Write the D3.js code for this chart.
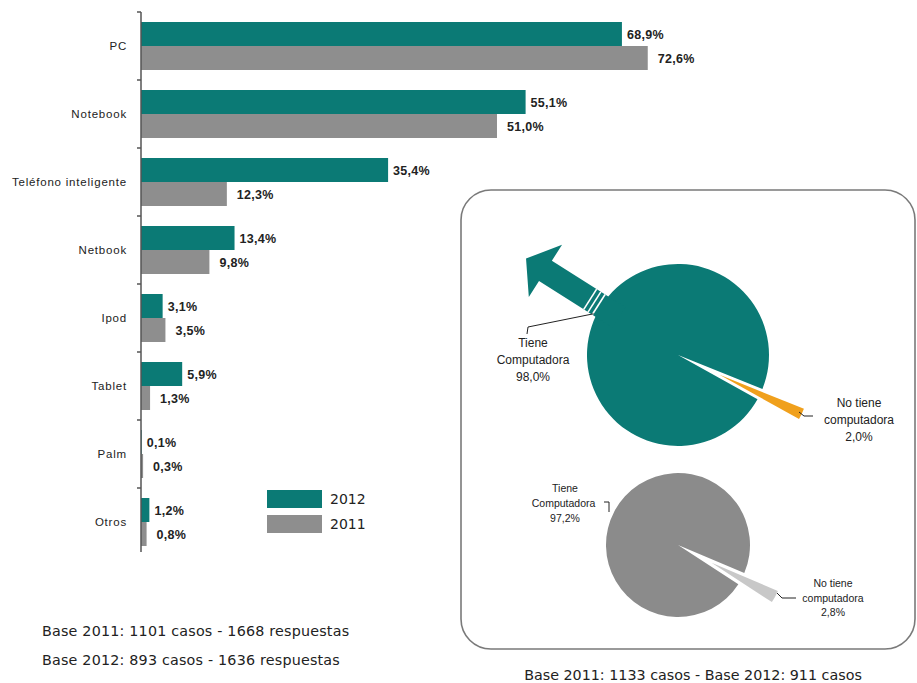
<!DOCTYPE html>
<html>
<head>
<meta charset="utf-8">
<script src="https://cdn.jsdelivr.net/npm/d3@7"></script>
<style>
  body { margin: 0; background: #fff; }
  svg { display: block; }
</style>
</head>
<body>
<svg id="chart" width="917" height="683"></svg>
<script>
// Devices owned, by year (percent of respondents)
const categories = ["PC", "Notebook", "Teléfono inteligente", "Netbook", "Ipod", "Tablet", "Palm", "Otros"];
const seriesNames = ["2012", "2011"];
const values2012 = [68.9, 55.1, 35.4, 13.4, 3.1, 5.9, 0.1, 1.2];
const values2011 = [72.6, 51.0, 12.3, 9.8, 3.5, 1.3, 0.3, 0.8];
const seriesColors = ["#0b7a75", "#8e8e8e"];

// Computer ownership pies
const pieLabels = [["Tiene", "Computadora"], ["No tiene", "computadora"]];
const pie2012Values = [98.0, 2.0];
const pie2011Values = [97.2, 2.8];
const pie2012Colors = ["#0b7a75", "#f0a01c"];
const pie2011Colors = ["#8b8b8b", "#c8c8c8"];

const barNotes = ["Base 2011: 1101 casos - 1668 respuestas", "Base 2012: 893 casos - 1636 respuestas"];
const pieNote = "Base 2011: 1133 casos - Base 2012: 911 casos";

const fmt = v => d3.format(".1f")(v).replace(".", ",") + "%";

const svg = d3.select("#chart");

// ---------- Bar chart ----------
const axisX = 141;
const x = d3.scaleLinear().domain([0, 100]).range([axisX, axisX + 698]);
const y = d3.scaleBand().domain(categories).range([12, 556]);
const ySub = d3.scaleBand().domain(seriesNames).range([10, 58]);

const rows = categories.map((c, i) => ({ cat: c, vals: [values2012[i], values2011[i]] }));

const groups = svg.append("g").selectAll("g.row")
  .data(rows).join("g")
  .attr("class", "row")
  .attr("transform", d => `translate(0,${y(d.cat)})`);

groups.selectAll("rect")
  .data(d => d.vals.map((v, k) => ({ v, k })))
  .join("rect")
  .attr("x", x(0))
  .attr("y", d => ySub(seriesNames[d.k]))
  .attr("width", d => x(d.v) - x(0))
  .attr("height", ySub.bandwidth())
  .attr("fill", d => seriesColors[d.k]);

groups.selectAll("text.val")
  .data(d => d.vals.map((v, k) => ({ v, k })))
  .join("text")
  .attr("class", "val")
  .attr("x", d => x(d.v) + (d.k === 0 ? 5 : 10))
  .attr("y", d => ySub(seriesNames[d.k]) + ySub.bandwidth() / 2 + 4.5)
  .attr("font-family", "Liberation Sans, Arial, sans-serif")
  .attr("font-weight", "bold")
  .attr("font-size", 12.5)
  .attr("letter-spacing", 0.3)
  .attr("fill", "#222")
  .text(d => fmt(d.v));

// Category axis
const yAxis = d3.axisLeft(y).tickSize(0).tickPadding(14);
const axisG = svg.append("g").attr("transform", `translate(${axisX},0)`).call(yAxis);
axisG.select(".domain").remove();
axisG.selectAll("text")
  .attr("font-family", "Liberation Sans, Arial, sans-serif")
  .attr("font-size", 11.5)
  .attr("letter-spacing", 0.8)
  .attr("fill", "#222");

svg.append("line")
  .attr("x1", axisX).attr("x2", axisX)
  .attr("y1", y.range()[0]).attr("y2", y.range()[1] - 4)
  .attr("stroke", "#555").attr("stroke-width", 1.5);

svg.append("g").selectAll("line")
  .data(d3.range(categories.length))
  .join("line")
  .attr("x1", axisX - 4).attr("x2", axisX)
  .attr("y1", i => y.range()[0] + i * y.step())
  .attr("y2", i => y.range()[0] + i * y.step())
  .attr("stroke", "#555").attr("stroke-width", 1.5);

// Legend
const legend = svg.append("g").attr("transform", "translate(267,490)");
seriesNames.forEach((s, i) => {
  legend.append("rect")
    .attr("x", 0).attr("y", i * 25)
    .attr("width", 55).attr("height", 18)
    .attr("fill", seriesColors[i]);
  legend.append("text")
    .attr("x", 63).attr("y", i * 25 + 14)
    .attr("font-family", "DejaVu Sans, sans-serif")
    .attr("font-size", 14)
    .attr("fill", "#222")
    .text(s);
});

// Notes under the bar chart
svg.append("g").selectAll("text")
  .data(barNotes).join("text")
  .attr("x", 42)
  .attr("y", (d, i) => 636 + i * 29)
  .attr("font-family", "DejaVu Sans, sans-serif")
  .attr("font-size", 14.3)
  .attr("letter-spacing", 0.2)
  .attr("fill", "#222")
  .text(d => d);

// ---------- Pie panel ----------
svg.append("rect")
  .attr("x", 461).attr("y", 190)
  .attr("width", 454).attr("height", 459)
  .attr("rx", 30).attr("ry", 30)
  .attr("fill", "none")
  .attr("stroke", "#7a7a7a").attr("stroke-width", 1.6);

svg.append("text")
  .attr("x", 693).attr("y", 680)
  .attr("text-anchor", "middle")
  .attr("font-family", "DejaVu Sans, sans-serif")
  .attr("font-size", 14.3)
  .attr("fill", "#222")
  .text(pieNote);

const rad = deg => deg * Math.PI / 180;
const polar = (cx, cy, r, a) => [cx + r * Math.sin(a), cy - r * Math.cos(a)];

function drawPie(cfg) {
  const { cx, cy, r, values, colors, midDeg, explode } = cfg;
  const total = d3.sum(values);
  const smallSpan = 360 * values[1] / total;
  const start = rad(midDeg - smallSpan / 2 - (360 - smallSpan));
  const pie = d3.pie().sort(null).startAngle(start).endAngle(start + 2 * Math.PI);
  const arcs = pie(values);
  const arc = d3.arc().innerRadius(0).outerRadius(r);
  const g = svg.append("g").attr("transform", `translate(${cx},${cy})`);
  arcs.forEach((a, i) => {
    const mid = (a.startAngle + a.endAngle) / 2;
    const off = i === 1 ? explode : 0;
    g.append("path")
      .attr("d", arc(a))
      .attr("transform", `translate(${Math.sin(mid) * off},${-Math.cos(mid) * off})`)
      .attr("fill", colors[i]);
  });
  return { g, arcs };
}

// 2012 pie
const p1 = { cx: 678, cy: 355, r: 91 };
drawPie({ ...p1, values: pie2012Values, colors: pie2012Colors, midDeg: 115.5, explode: 46 });

// Arrow leaving the 2012 pie
{
  const ang = -147.6; // direction of the arrow, screen degrees
  const g = svg.append("g").attr("transform", `translate(${p1.cx},${p1.cy}) rotate(${ang})`);
  const shaftHalf = 12, headHalf = 31, headBase = 157, tip = 180;
  g.append("path")
    .attr("d", `M70,${-shaftHalf} L${headBase},${-shaftHalf} L${headBase},${-headHalf} L${tip},0 L${headBase},${headHalf} L${headBase},${shaftHalf} L70,${shaftHalf} Z`)
    .attr("fill", pie2012Colors[0]);
  [94, 99, 104].forEach(d => {
    g.append("line")
      .attr("x1", d).attr("x2", d)
      .attr("y1", -shaftHalf).attr("y2", shaftHalf)
      .attr("stroke", "#fff").attr("stroke-width", 1.6);
  });
}

// 2012 pie labels
function label(lines, cx, baseY, step, size) {
  const t = svg.append("text")
    .attr("text-anchor", "middle")
    .attr("font-family", "Liberation Sans, Arial, sans-serif")
    .attr("font-size", size)
    .attr("fill", "#222");
  lines.forEach((l, i) => {
    t.append("tspan").attr("x", cx).attr("y", baseY + i * step).text(l);
  });
}

{
  const s = polar(p1.cx, p1.cy, p1.r + 3, rad(296));
  svg.append("path")
    .attr("d", `M${s[0]},${s[1]} L528,327 L527,334`)
    .attr("fill", "none").attr("stroke", "#222").attr("stroke-width", 1);
  label([...pieLabels[0], fmt(pie2012Values[0])], 533, 347, 17, 12);

  svg.append("path")
    .attr("d", "M799,412 L804,416 L813,416")
    .attr("fill", "none").attr("stroke", "#222").attr("stroke-width", 1);
  label([...pieLabels[1], fmt(pie2012Values[1])], 859, 407, 17, 12);
}

// 2011 pie
const p2 = { cx: 678, cy: 545, r: 72 };
drawPie({ ...p2, values: pie2011Values, colors: pie2011Colors, midDeg: 118, explode: 38 });

{
  svg.append("path")
    .attr("d", "M604,502 L609,502 L609,512")
    .attr("fill", "none").attr("stroke", "#222").attr("stroke-width", 1);
  label([pieLabels[0][0], pieLabels[0][1] + "  ", fmt(pie2011Values[0])], 565, 492, 15, 10.5);

  svg.append("path")
    .attr("d", "M777,593 L782,598 L796,598")
    .attr("fill", "none").attr("stroke", "#222").attr("stroke-width", 1);
  label([pieLabels[1][0], pieLabels[1][1], fmt(pie2011Values[1])], 833, 587, 14.5, 10.5);
}
</script>
</body>
</html>
